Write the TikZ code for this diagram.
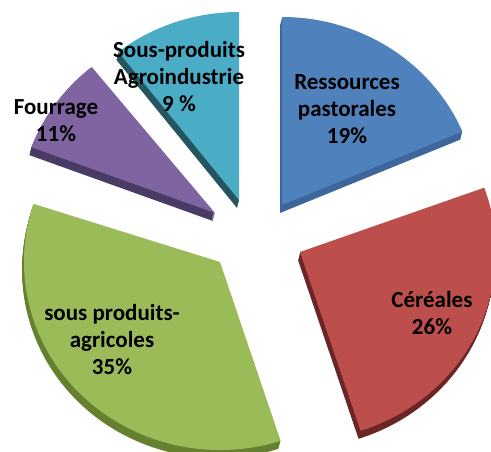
\documentclass[tikz,border=0pt]{standalone}
\usepackage{fontspec}
\setmainfont{Carlito}

\definecolor{pastoral}{HTML}{4F81BD}
\definecolor{pastoralside}{HTML}{3D679A}
\definecolor{cereal}{HTML}{BC4F4B}
\definecolor{cerealside}{HTML}{6A2624}
\definecolor{agri}{HTML}{9BBB59}
\definecolor{agriside}{HTML}{65802F}
\definecolor{forage}{HTML}{8064A2}
\definecolor{forageside}{HTML}{4A3A66}
\definecolor{agroind}{HTML}{4BACC6}
\definecolor{agroindside}{HTML}{25565F}

% one piece of the pie: centre, start angle, end angle, fill
\newcommand{\pieslice}[4]{\fill[#4] (#1) -- ++(#2:196 and 188)
    arc[start angle=#2,end angle=#3,x radius=196,y radius=188] -- cycle;}

\begin{document}
\begin{tikzpicture}[x=1pt,y=-1pt]
    \tikzstyle{pietext}=[align=center,text=black,font=\bfseries\fontsize{23}{27}\selectfont]
    \clip (0,0) rectangle (491,452);
    % thickness of the pieces
    \foreach \k in {1,...,8} {
        \begin{scope}[shift={(-0.25*\k,\k)}]
            \pieslice{239,200}{232}{270}{agroindside}
            \pieslice{282,205}{-90}{-23}{pastoralside}
            \pieslice{215,213}{200.5}{231}{forageside}
            \pieslice{300,252}{-20}{72}{cerealside}
            \pieslice{220,262}{72}{198}{agriside}
        \end{scope}
    }
    % top faces
    \pieslice{239,200}{232}{270}{agroind}
    \pieslice{282,205}{-90}{-23}{pastoral}
    \pieslice{215,213}{200.5}{231}{forage}
    \pieslice{300,252}{-20}{72}{cereal}
    \pieslice{220,262}{72}{198}{agri}

    \node[pietext] (past)  at (347,109) {Ressources\\pastorales\\19\%};
    \node[pietext] (cer)   at (432,313) {Céréales\\26\%};
    \node[pietext] (agri)  at (112,340) {sous produits-\\agricoles\\35\%};
    \node[pietext] (four)  at (56,121)  {Fourrage\\11\%};
    \node[pietext] (agro)  at (179,77)  {Sous-produits\\Agroindustrie\\9 \%};
\end{tikzpicture}
\end{document}
